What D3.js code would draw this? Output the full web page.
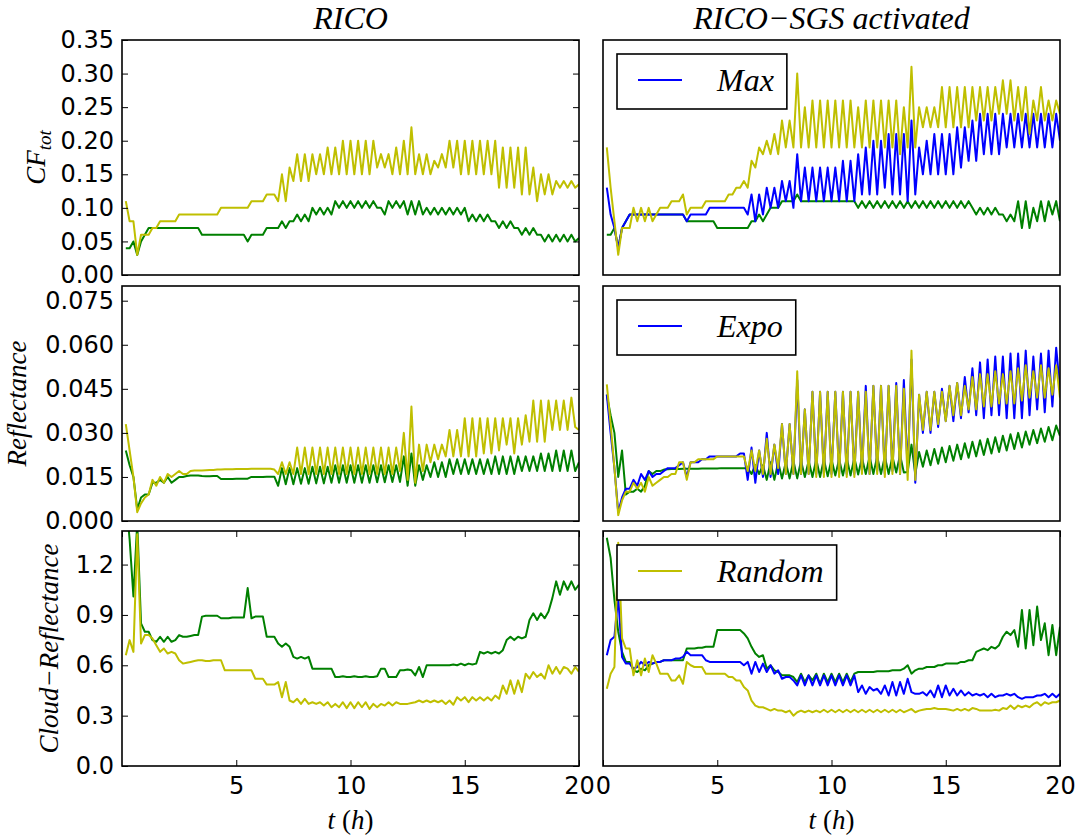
<!DOCTYPE html>
<html>
<head>
<meta charset="utf-8">
<script src="https://cdn.jsdelivr.net/npm/d3@7"></script>
<style>
    body { margin: 0; background: #fff; }
    .tick text { font-family: "DejaVu Sans", sans-serif; font-size: 24px; fill: #000; }
    .tick line { stroke: #000; stroke-width: 1; }
    .math { font-family: "Liberation Serif", serif; font-style: italic; fill: #000; }
    .up { font-style: normal; }
</style>
</head>
<body>
<div id="chart"></div>
<script>

// output every 10 minutes, t in hours
const tHours = d3.range(1, 121).map(k => k / 6);

const xTicksLeft = [5, 10, 15, 20];
const xTicksRight = [0, 5, 10, 15, 20];
const cfTicks = [0, 0.05, 0.10, 0.15, 0.20, 0.25, 0.30, 0.35];
const reflTicks = [0, 0.015, 0.030, 0.045, 0.060, 0.075];
const cloudTicks = [0, 0.3, 0.6, 0.9, 1.2];

// ---- top row : CF_tot ----
const cfLeftGreen = [
    .04,.04,.05,.03,.05,.06,.07,.07,.07,.07,
    .07,.07,.07,.07,.07,.07,.07,.07,.07,.07,
    .06,.06,.06,.06,.06,.06,.06,.06,.06,.06,
    .06,.06,.05,.06,.06,.06,.06,.07,.07,.07,
    .07,.08,.07,.08,.08,.09,.08,.09,.08,.10,
    .09,.10,.09,.10,.09,.11,.10,.11,.10,.11,
    .10,.11,.10,.11,.10,.11,.10,.10,.09,.11,
    .10,.11,.10,.11,.09,.11,.09,.11,.09,.10,
    .09,.10,.09,.10,.09,.10,.09,.10,.09,.10,
    .08,.09,.08,.09,.08,.09,.08,.08,.07,.08,
    .07,.08,.07,.07,.06,.07,.06,.07,.06,.06,
    .05,.06,.05,.06,.05,.06,.05,.06,.05,.055];
const cfLeftYellow = [
    .11,.08,.08,.03,.06,.06,.06,.07,.07,.08,
    .08,.08,.08,.08,.09,.09,.09,.09,.09,.09,
    .09,.09,.09,.09,.09,.10,.10,.10,.10,.10,
    .10,.10,.10,.11,.11,.11,.11,.12,.12,.12,
    .11,.15,.11,.16,.14,.18,.14,.18,.14,.18,
    .15,.18,.15,.19,.15,.19,.15,.20,.15,.20,
    .15,.20,.15,.20,.15,.20,.16,.18,.16,.18,
    .15,.19,.15,.20,.15,.22,.15,.18,.15,.18,
    .15,.17,.16,.18,.16,.20,.16,.20,.15,.20,
    .15,.20,.15,.20,.15,.20,.15,.20,.13,.19,
    .13,.19,.13,.19,.12,.19,.12,.16,.11,.15,
    .12,.15,.12,.14,.13,.14,.13,.14,.13,.135];
const cfRightGreen = [
    .06,.06,.07,.04,.07,.08,.09,.09,.09,.09,
    .09,.09,.09,.09,.09,.09,.09,.09,.09,.09,
    .09,.08,.08,.08,.08,.08,.08,.08,.08,.07,
    .07,.07,.07,.07,.07,.07,.07,.07,.08,.08,
    .09,.08,.09,.10,.10,.10,.11,.11,.11,.11,
    .12,.11,.11,.11,.11,.11,.11,.11,.11,.11,
    .11,.11,.11,.11,.11,.11,.10,.11,.10,.11,
    .10,.11,.10,.11,.10,.11,.10,.11,.10,.11,
    .10,.11,.10,.11,.10,.11,.10,.11,.10,.11,
    .10,.11,.10,.11,.10,.11,.10,.09,.10,.09,
    .10,.09,.10,.09,.09,.08,.09,.08,.11,.07,
    .11,.07,.10,.08,.11,.08,.11,.09,.11,.08];
const cfRightMax = [
    .13,.09,.07,.04,.07,.08,.09,.09,.09,.09,
    .09,.09,.09,.09,.09,.09,.09,.09,.09,.09,
    .09,.08,.09,.09,.09,.09,.09,.10,.10,.10,
    .10,.10,.10,.10,.10,.10,.10,.09,.12,.08,
    .12,.09,.13,.10,.13,.10,.14,.11,.14,.10,
    .18,.11,.16,.11,.16,.11,.16,.11,.16,.11,
    .16,.11,.17,.11,.17,.11,.18,.12,.19,.12,
    .20,.12,.20,.13,.21,.12,.21,.12,.21,.11,
    .23,.12,.19,.15,.20,.15,.21,.15,.21,.15,
    .21,.15,.22,.16,.22,.17,.23,.17,.24,.18,
    .24,.18,.24,.18,.24,.19,.24,.19,.24,.19,
    .24,.19,.24,.19,.24,.19,.24,.19,.24,.20];
const cfRightYellow = [
    .19,.13,.08,.03,.07,.07,.07,.10,.08,.10,
    .08,.10,.08,.09,.10,.10,.10,.11,.11,.11,
    .12,.09,.10,.10,.10,.10,.11,.11,.11,.11,
    .11,.11,.12,.12,.13,.13,.14,.13,.17,.16,
    .19,.18,.20,.18,.21,.18,.23,.19,.23,.19,
    .30,.19,.25,.19,.26,.19,.26,.19,.26,.19,
    .26,.19,.26,.19,.26,.19,.25,.19,.26,.19,
    .26,.19,.26,.19,.26,.19,.26,.18,.25,.19,
    .31,.19,.25,.22,.25,.22,.25,.22,.28,.22,
    .28,.22,.28,.22,.28,.22,.28,.23,.28,.23,
    .28,.23,.28,.24,.29,.24,.29,.23,.28,.23,
    .28,.21,.26,.23,.28,.23,.26,.23,.26,.24];

// ---- middle row : Reflectance ----
const reflLeftGreen = [
    .024,.019,.015,.004,.008,.009,.009,.013,.013,.014,
    .013,.015,.013,.014,.015,.015,.0153,.0155,.0155,.0155,
    .0153,.0152,.0152,.0153,.0153,.0143,.0143,.0143,.0143,.0144,
    .0144,.0144,.0144,.0150,.0150,.0150,.0150,.0151,.0151,.0151,
    .012,.018,.0125,.018,.0125,.018,.0127,.018,.0127,.0185,
    .0128,.0185,.0128,.0185,.013,.019,.013,.019,.013,.019,
    .013,.019,.013,.019,.013,.019,.0132,.019,.0132,.019,
    .0133,.019,.0133,.022,.012,.023,.012,.019,.014,.019,
    .015,.020,.015,.020,.015,.021,.016,.021,.016,.021,
    .016,.021,.016,.021,.016,.021,.016,.022,.016,.022,
    .016,.022,.016,.022,.017,.022,.017,.022,.017,.023,
    .017,.023,.017,.024,.017,.024,.017,.024,.017,.020];
const reflLeftYellow = [
    .033,.024,.015,.003,.006,.008,.009,.014,.012,.015,
    .013,.016,.015,.016,.017,.016,.016,.017,.0172,.0172,
    .0172,.0173,.0174,.0174,.0175,.0175,.0176,.0176,.0176,.0177,
    .0177,.0177,.0177,.0178,.0178,.0178,.0178,.0178,.0178,.0175,
    .016,.020,.016,.020,.016,.025,.016,.025,.016,.025,
    .016,.025,.016,.025,.016,.025,.016,.025,.016,.025,
    .016,.025,.016,.025,.016,.025,.016,.025,.016,.025,
    .016,.025,.017,.030,.014,.039,.013,.026,.017,.026,
    .020,.026,.021,.026,.022,.031,.022,.031,.022,.035,
    .022,.035,.022,.035,.023,.035,.023,.035,.024,.035,
    .026,.035,.023,.035,.026,.036,.027,.041,.027,.041,
    .027,.041,.031,.041,.031,.041,.031,.042,.032,.031];
const reflRightGreen = [
    .043,.036,.030,.015,.024,.009,.010,.010,.011,.010,
    .012,.017,.016,.017,.017,.0175,.0176,.0177,.0177,.0177,
    .0178,.0178,.0178,.0178,.0178,.0179,.0179,.0179,.0179,.0179,
    .018,.018,.018,.018,.018,.018,.018,.018,.016,.019,
    .016,.019,.014,.020,.014,.020,.0145,.020,.0145,.0205,
    .0145,.0205,.015,.0205,.015,.021,.015,.021,.0152,.021,
    .0155,.021,.0155,.0215,.0155,.0215,.0158,.0215,.016,.022,
    .016,.022,.016,.022,.016,.022,.0165,.0225,.0165,.0167,
    .026,.016,.0235,.0185,.024,.019,.0245,.0195,.025,.020,
    .0255,.0205,.026,.021,.0265,.0215,.027,.022,.0275,.0225,
    .028,.023,.0285,.0235,.029,.024,.0295,.0245,.030,.025,
    .0305,.026,.031,.0265,.0315,.027,.032,.0275,.0325,.029];
const reflRightExpo = [
    .043,.030,.018,.003,.008,.011,.011,.014,.012,.016,
    .014,.017,.015,.016,.016,.017,.018,.018,.018,.019,
    .020,.015,.020,.020,.020,.021,.021,.022,.022,.022,
    .022,.022,.022,.022,.022,.023,.023,.014,.025,.013,
    .024,.015,.030,.015,.026,.016,.033,.016,.033,.016,
    .048,.016,.038,.016,.044,.016,.044,.016,.044,.016,
    .044,.016,.044,.016,.044,.016,.044,.017,.046,.016,
    .046,.017,.046,.016,.046,.017,.047,.016,.048,.017,
    .055,.013,.043,.030,.044,.030,.044,.032,.045,.034,
    .046,.034,.047,.035,.049,.037,.052,.036,.054,.035,
    .055,.036,.056,.036,.056,.035,.057,.035,.057,.035,
    .058,.036,.056,.038,.057,.037,.058,.039,.059,.045];
const reflRightYellow = [
    .0465,.033,.018,.002,.007,.010,.010,.013,.011,.013,
    .010,.015,.012,.013,.014,.015,.015,.016,.016,.020,
    .020,.014,.020,.020,.021,.021,.021,.021,.021,.022,
    .022,.022,.022,.022,.022,.022,.022,.017,.024,.017,
    .024,.016,.028,.016,.026,.018,.033,.016,.033,.016,
    .051,.016,.038,.016,.044,.015,.044,.015,.044,.015,
    .044,.015,.044,.015,.044,.015,.044,.016,.044,.016,
    .046,.016,.046,.015,.046,.016,.046,.016,.045,.014,
    .058,.014,.043,.031,.044,.031,.044,.033,.044,.034,
    .046,.036,.047,.036,.046,.038,.049,.038,.050,.039,
    .050,.039,.051,.040,.050,.040,.051,.040,.052,.041,
    .053,.042,.051,.042,.053,.042,.052,.043,.053,.042];

// ---- bottom row : Cloud-Reflectance ----
const cloudLeftGreen = [
    1.60,1.35,1.01,1.45,0.85,0.80,0.80,0.75,0.74,0.77,
    0.74,0.77,0.74,0.75,0.78,0.77,0.77,0.775,0.78,0.78,
    0.89,0.895,0.895,0.895,0.895,0.88,0.88,0.88,0.885,0.885,
    0.885,0.885,1.06,0.88,0.89,0.89,0.89,0.77,0.77,0.77,
    0.73,0.71,0.73,0.71,0.65,0.64,0.65,0.64,0.65,0.58,
    0.58,0.58,0.58,0.58,0.58,0.53,0.53,0.535,0.53,0.53,
    0.535,0.53,0.53,0.535,0.53,0.53,0.535,0.58,0.58,0.53,
    0.53,0.53,0.57,0.57,0.575,0.57,0.54,0.59,0.53,0.60,
    0.60,0.60,0.60,0.60,0.60,0.60,0.605,0.60,0.61,0.60,
    0.61,0.605,0.61,0.68,0.67,0.68,0.67,0.68,0.67,0.69,
    0.75,0.77,0.75,0.77,0.76,0.77,0.87,0.91,0.87,0.91,
    0.88,0.92,1.00,1.10,1.02,1.10,1.05,1.10,1.05,1.08];
const cloudLeftYellow = [
    0.66,0.75,0.68,1.38,0.73,0.78,0.78,0.76,0.72,0.68,
    0.70,0.67,0.68,0.67,0.63,0.61,0.615,0.62,0.625,0.63,
    0.63,0.625,0.625,0.63,0.63,0.63,0.57,0.57,0.57,0.57,
    0.57,0.57,0.57,0.57,0.52,0.52,0.52,0.485,0.485,0.485,
    0.50,0.41,0.50,0.39,0.38,0.40,0.37,0.40,0.37,0.38,
    0.37,0.38,0.36,0.38,0.35,0.37,0.35,0.38,0.345,0.38,
    0.345,0.38,0.35,0.38,0.34,0.37,0.35,0.37,0.36,0.38,
    0.36,0.38,0.37,0.37,0.37,0.375,0.38,0.39,0.38,0.39,
    0.38,0.39,0.38,0.39,0.37,0.39,0.365,0.41,0.39,0.41,
    0.38,0.41,0.39,0.41,0.39,0.41,0.39,0.42,0.40,0.48,
    0.43,0.51,0.43,0.51,0.44,0.55,0.52,0.56,0.53,0.55,
    0.52,0.60,0.55,0.59,0.55,0.59,0.58,0.55,0.59,0.56];
const cloudRightGreen = [
    1.36,1.24,0.99,0.80,0.68,0.62,0.62,0.57,0.56,0.58,
    0.57,0.60,0.61,0.62,0.62,0.63,0.63,0.63,0.63,0.63,
    0.63,0.70,0.70,0.70,0.705,0.705,0.71,0.71,0.71,0.81,
    0.81,0.81,0.81,0.81,0.81,0.81,0.79,0.76,0.71,0.67,
    0.65,0.66,0.58,0.60,0.57,0.56,0.54,0.54,0.54,0.53,
    0.50,0.55,0.50,0.54,0.51,0.55,0.49,0.55,0.50,0.55,
    0.50,0.55,0.50,0.55,0.50,0.55,0.56,0.56,0.56,0.56,
    0.56,0.565,0.565,0.565,0.565,0.57,0.57,0.57,0.58,0.60,
    0.55,0.57,0.58,0.58,0.59,0.59,0.59,0.60,0.60,0.61,
    0.61,0.61,0.61,0.62,0.62,0.63,0.63,0.68,0.69,0.70,
    0.69,0.71,0.70,0.72,0.77,0.80,0.78,0.81,0.71,0.93,
    0.70,0.93,0.72,0.95,0.75,0.85,0.66,0.84,0.66,0.83];
const cloudRightBlue = [
    0.66,0.75,0.77,1.01,0.65,0.61,0.61,0.58,0.59,0.62,
    0.60,0.62,0.61,0.62,0.62,0.63,0.63,0.63,0.64,0.64,
    0.65,0.68,0.66,0.66,0.66,0.66,0.63,0.62,0.62,0.62,
    0.62,0.62,0.62,0.62,0.62,0.62,0.60,0.62,0.55,0.62,
    0.56,0.61,0.56,0.60,0.55,0.57,0.52,0.53,0.53,0.51,
    0.48,0.54,0.48,0.54,0.48,0.54,0.48,0.54,0.48,0.54,
    0.48,0.54,0.48,0.54,0.48,0.54,0.44,0.48,0.43,0.47,
    0.45,0.46,0.43,0.48,0.42,0.50,0.42,0.50,0.43,0.52,
    0.44,0.43,0.43,0.44,0.42,0.45,0.41,0.48,0.41,0.48,
    0.42,0.46,0.42,0.45,0.42,0.44,0.42,0.43,0.42,0.43,
    0.41,0.43,0.41,0.42,0.42,0.43,0.42,0.43,0.41,0.40,
    0.41,0.41,0.41,0.42,0.42,0.43,0.41,0.43,0.41,0.43];
const cloudRightRandom = [
    0.46,0.55,0.59,1.33,0.76,0.70,0.70,0.54,0.63,0.54,
    0.64,0.56,0.66,0.61,0.55,0.55,0.55,0.51,0.51,0.54,
    0.49,0.62,0.60,0.59,0.59,0.59,0.55,0.55,0.55,0.55,
    0.55,0.55,0.53,0.53,0.51,0.51,0.47,0.45,0.39,0.36,
    0.35,0.35,0.34,0.33,0.34,0.33,0.33,0.32,0.33,0.30,
    0.32,0.33,0.32,0.33,0.32,0.33,0.32,0.335,0.32,0.335,
    0.32,0.335,0.32,0.335,0.32,0.335,0.32,0.335,0.32,0.335,
    0.32,0.335,0.32,0.335,0.32,0.335,0.32,0.335,0.32,0.33,
    0.34,0.32,0.33,0.335,0.34,0.34,0.345,0.34,0.34,0.34,
    0.335,0.33,0.34,0.33,0.34,0.33,0.345,0.34,0.33,0.33,
    0.33,0.33,0.335,0.33,0.345,0.34,0.36,0.34,0.36,0.35,
    0.36,0.35,0.37,0.38,0.36,0.38,0.37,0.38,0.38,0.39];

const GREEN = "#008000", BLUE = "#0000ff", YELLOW = "#bfbf00";

const width = 1079, height = 838;
const colX = [122, 603];
const rowY = [40, 286, 531];
const panelW = 457, panelH = 235;

const svg = d3.select("#chart").append("svg")
    .attr("width", width)
    .attr("height", height)
    .style("font-family", "'DejaVu Sans', sans-serif");

const x = d3.scaleLinear().domain([0, 20]).range([0, panelW]);

const rows = [
    { domain: [0, 0.35], ticks: cfTicks, fmt: ".2f", ylab: ["CF", "tot"], ylabX: 45,
      left: [[cfLeftGreen, GREEN], [cfLeftYellow, YELLOW]],
      right: [[cfRightGreen, GREEN], [cfRightMax, BLUE], [cfRightYellow, YELLOW]],
      legend: ["Max", BLUE] },
    { domain: [0, 0.08], ticks: reflTicks, fmt: ".3f", ylab: ["Reflectance"], ylabX: 26,
      left: [[reflLeftGreen, GREEN], [reflLeftYellow, YELLOW]],
      right: [[reflRightGreen, GREEN], [reflRightExpo, BLUE], [reflRightYellow, YELLOW]],
      legend: ["Expo", BLUE] },
    { domain: [0, 1.4], ticks: cloudTicks, fmt: ".1f", ylab: ["Cloud\u2212Reflectance"], ylabX: 58,
      left: [[cloudLeftGreen, GREEN], [cloudLeftYellow, YELLOW]],
      right: [[cloudRightGreen, GREEN], [cloudRightBlue, BLUE], [cloudRightRandom, YELLOW]],
      legend: ["Random", YELLOW] }
];

rows.forEach((row, r) => {
    let y = d3.scaleLinear().domain(row.domain).range([panelH, 0]);
    let line = d3.line()
        .x((d, i) => x(tHours[i]))
        .y(d => y(d));

    [0, 1].forEach(c => {
        let g = svg.append("g")
            .attr("transform", `translate(${colX[c]},${rowY[r]})`);

        let clipId = `clip-${r}-${c}`;
        g.append("clipPath").attr("id", clipId)
            .append("rect").attr("width", panelW).attr("height", panelH);

        let series = c === 0 ? row.left : row.right;
        g.append("g").attr("clip-path", `url(#${clipId})`)
            .selectAll("path")
            .data(series)
            .enter().append("path")
            .attr("d", d => line(d[0]))
            .attr("fill", "none")
            .attr("stroke", d => d[1])
            .attr("stroke-width", 2)
            .attr("stroke-linejoin", "round");

        // y ticks, left column only
        if (c === 0) {
            g.append("g")
                .call(d3.axisLeft(y).tickValues(row.ticks).tickFormat(d3.format(row.fmt))
                    .tickSize(-6).tickPadding(8))
                .call(a => a.select(".domain").remove());
            g.append("g")
                .attr("transform", `translate(${panelW},0)`)
                .call(d3.axisRight(y).tickValues(row.ticks).tickFormat("").tickSize(-6))
                .call(a => a.select(".domain").remove());
        }

        // x ticks on bottom row
        if (r === 2) {
            g.append("g")
                .attr("transform", `translate(0,${panelH})`)
                .call(d3.axisBottom(x).tickValues(c === 0 ? xTicksLeft : xTicksRight)
                    .tickSize(-6).tickPadding(11))
                .call(a => a.select(".domain").remove());
            g.append("g")
                .call(d3.axisTop(x).tickValues(xTicksRight).tickFormat("").tickSize(-6))
                .call(a => a.select(".domain").remove());
        }

        // frame
        g.append("rect")
            .attr("width", panelW).attr("height", panelH)
            .attr("fill", "none").attr("stroke", "#000").attr("stroke-width", 1.6);

        // legend in right column
        if (c === 1) {
            let lg = g.append("g").attr("transform", "translate(14,14)");
            let box = lg.append("rect")
                .attr("height", 55)
                .attr("fill", "#fff").attr("stroke", "#000").attr("stroke-width", 1.6);
            lg.append("line")
                .attr("x1", 21).attr("x2", 65).attr("y1", 26).attr("y2", 26)
                .attr("stroke", row.legend[1]).attr("stroke-width", 2);
            let txt = lg.append("text")
                .attr("class", "math")
                .attr("x", 100).attr("y", 37)
                .style("font-size", "32px")
                .text(row.legend[0]);
            box.attr("width", 113 + txt.node().getComputedTextLength());
        }
    });

    // y label
    let cy = rowY[r] + panelH / 2;
    let lab = svg.append("text")
        .attr("class", "math")
        .attr("transform", `translate(${row.ylabX},${cy}) rotate(-90)`)
        .attr("text-anchor", "middle")
        .style("font-size", "27px");
    lab.append("tspan").text(row.ylab[0]);
    if (row.ylab[1]) {
        lab.append("tspan").attr("dy", 6).style("font-size", "19px").text(row.ylab[1]);
    }
});

// column titles
const titles = ["RICO", "RICO\u2212SGS activated"];
titles.forEach((t, c) => {
    svg.append("text")
        .attr("class", "math")
        .attr("x", colX[c] + panelW / 2)
        .attr("y", 29)
        .attr("text-anchor", "middle")
        .style("font-size", "32px")
        .text(t);
});

// x labels
[0, 1].forEach(c => {
    let t = svg.append("text")
        .attr("class", "math")
        .attr("x", colX[c] + panelW / 2)
        .attr("y", 829)
        .attr("text-anchor", "middle")
        .style("font-size", "27px");
    t.append("tspan").text("t ");
    t.append("tspan").attr("class", "up").text("(");
    t.append("tspan").text("h");
    t.append("tspan").attr("class", "up").text(")");
});

</script>
</body>
</html>
